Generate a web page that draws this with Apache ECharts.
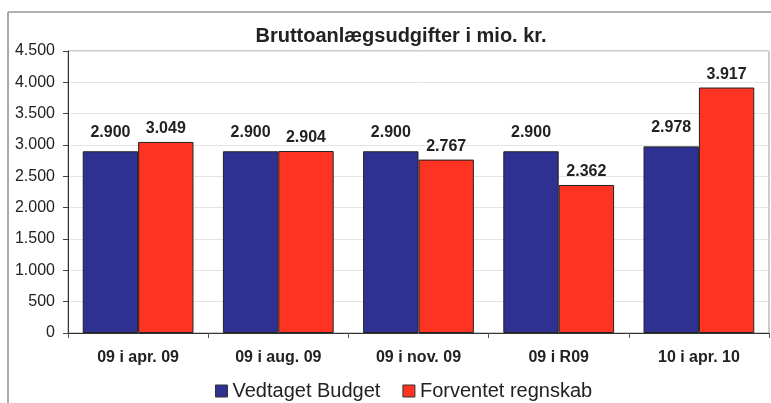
<!DOCTYPE html>
<html>
<head>
<meta charset="utf-8">
<script src="https://cdn.jsdelivr.net/npm/echarts@6/dist/echarts.min.js"></script>
<style>
  html, body { margin: 0; padding: 0; background: #fff; }
  #chart { width: 771px; height: 403px; }
</style>
</head>
<body>
<div id="chart"></div>
<script>
  // data
  var categories = ["09 i apr. 09", "09 i aug. 09", "09 i nov. 09", "09 i R09", "10 i apr. 10"];
  var budget = [2900, 2900, 2900, 2900, 2978];
  var regnskab = [3049, 2904, 2767, 2362, 3917];
  var seriesNames = ["Vedtaget Budget", "Forventet regnskab"];

  function dk(v) {
    // danish thousands separator
    var s = String(Math.round(v));
    return s.replace(/\B(?=(\d{3})+(?!\d))/g, ".");
  }

  var chart = echarts.init(document.getElementById("chart"));
  chart.setOption({
    animation: false,
    textStyle: { fontFamily: "Liberation Sans, Arial, sans-serif" },
    title: {
      text: "Bruttoanlægsudgifter i mio. kr.",
      left: 396,
      textAlign: "center",
      top: 21,
      textStyle: { fontSize: 20, fontWeight: "bold", color: "#222" }
    },
    graphic: [
      { type: "line", shape: { x1: 8, y1: 12, x2: 771, y2: 12 }, style: { stroke: "#999", lineWidth: 1.5 } },
      { type: "line", shape: { x1: 8, y1: 12, x2: 8, y2: 403 }, style: { stroke: "#aaa", lineWidth: 2 } }
    ],
    legend: {
      data: seriesNames,
      left: 210,
      top: 376,
      itemWidth: 12,
      itemHeight: 12,
      itemGap: 22,
      icon: "rect",
      itemStyle: { borderColor: "#333", borderWidth: 1 },
      textStyle: { fontSize: 20, color: "#222" }
    },
    grid: {
      left: 68, right: 2, top: 51, bottom: 70,
      show: true, borderColor: "#999", borderWidth: 1
    },
    xAxis: {
      type: "category",
      data: categories,
      axisLine: { lineStyle: { color: "#333" } },
      axisTick: { show: true, length: 5, lineStyle: { color: "#555" } },
      axisLabel: { fontSize: 16, fontWeight: "bold", color: "#222", margin: 17 }
    },
    yAxis: {
      type: "value",
      min: 0, max: 4500, interval: 500,
      axisLine: { show: true, lineStyle: { color: "#333" } },
      axisTick: { show: true, length: 5, lineStyle: { color: "#444" } },
      axisLabel: { fontSize: 16, color: "#222", margin: 13, formatter: dk },
      splitLine: { lineStyle: { color: "#e4e4e4" } }
    },
    series: [
      {
        name: seriesNames[0],
        type: "bar",
        data: budget,
        barGap: "0%",
        barCategoryGap: "21%",
        itemStyle: { color: "#2E3192", borderColor: "#222", borderWidth: 1 },
        label: {
          show: true, position: "top", distance: 11,
          fontSize: 16, fontWeight: "bold", color: "#222",
          formatter: function (p) { return dk(p.value); }
        }
      },
      {
        name: seriesNames[1],
        type: "bar",
        data: regnskab,
        itemStyle: { color: "#FF3322", borderColor: "#222", borderWidth: 1 },
        label: {
          show: true, position: "top", distance: 5,
          fontSize: 16, fontWeight: "bold", color: "#222",
          formatter: function (p) { return dk(p.value); }
        }
      }
    ]
  });
</script>
</body>
</html>
